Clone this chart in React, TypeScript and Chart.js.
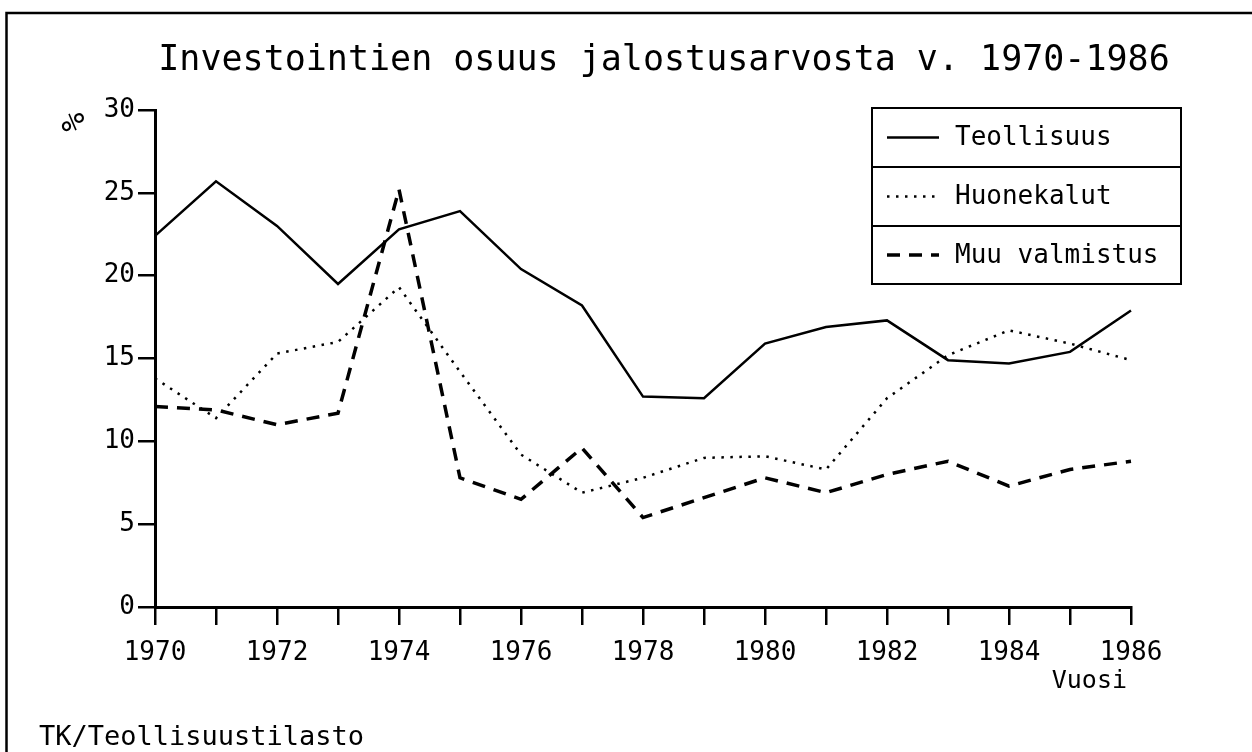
import React, { useEffect, useRef } from 'react';
import { Chart, registerables } from 'chart.js';

Chart.register(...registerables);

const chartTitle = 'Investointien osuus jalostusarvosta v. 1970-1986';
const sourceText = 'TK/Teollisuustilasto';
const xAxisTitle = 'Vuosi';
const yAxisTitle = '%';

const years = [1970, 1971, 1972, 1973, 1974, 1975, 1976, 1977, 1978, 1979, 1980, 1981, 1982, 1983, 1984, 1985, 1986];
const seriesNames = ['Teollisuus', 'Huonekalut', 'Muu valmistus'];
const teollisuus = [22.4, 25.7, 23.0, 19.5, 22.8, 23.9, 20.4, 18.2, 12.7, 12.6, 15.9, 16.9, 17.3, 14.9, 14.7, 15.4, 17.9];
const huonekalut = [13.8, 11.4, 15.3, 16.0, 19.3, 14.2, 9.2, 6.9, 7.8, 9.0, 9.1, 8.3, 12.6, 15.2, 16.7, 15.9, 14.9];
const muuValmistus = [12.1, 11.9, 11.0, 11.7, 25.2, 7.8, 6.5, 9.6, 5.4, 6.6, 7.8, 6.9, 8.0, 8.8, 7.3, 8.3, 8.8];
const yMin = 0;
const yMax = 30;
const yStep = 5;

const FONT = '"DejaVu Sans Mono", "Liberation Mono", monospace';

const decorPlugin = {
  id: 'decor',
  afterDraw(chart: any) {
    const ctx = chart.ctx as CanvasRenderingContext2D;
    ctx.save();
    // frame
    ctx.strokeStyle = '#000';
    ctx.lineWidth = 2.5;
    ctx.strokeRect(6.5, 13, 1270, 780);

    ctx.fillStyle = '#000';
    // title
    ctx.font = `35px ${FONT}`;
    ctx.textAlign = 'center';
    ctx.textBaseline = 'alphabetic';
    ctx.fillText(chartTitle, 664, 70);

    // y-axis unit
    ctx.save();
    ctx.translate(76, 122);
    ctx.rotate(-Math.PI / 2);
    ctx.font = `32px ${FONT}`;
    ctx.textAlign = 'center';
    ctx.textBaseline = 'middle';
    ctx.fillText(yAxisTitle, 0, 0);
    ctx.restore();

    // x-axis title
    ctx.font = `25px ${FONT}`;
    ctx.textAlign = 'right';
    ctx.textBaseline = 'alphabetic';
    ctx.fillText(xAxisTitle, 1127, 688);

    // source
    ctx.font = `27px ${FONT}`;
    ctx.textAlign = 'left';
    ctx.fillText(sourceText, 39, 745);

    // legend box
    const lx0 = 872, lx1 = 1181;
    const rows = [108, 167, 226, 284];
    ctx.lineWidth = 2;
    ctx.strokeRect(lx0, rows[0], lx1 - lx0, rows[3] - rows[0]);
    ctx.beginPath();
    ctx.moveTo(lx0, rows[1]); ctx.lineTo(lx1, rows[1]);
    ctx.moveTo(lx0, rows[2]); ctx.lineTo(lx1, rows[2]);
    ctx.stroke();
    ctx.font = `26px ${FONT}`;
    ctx.textAlign = 'left';
    ctx.textBaseline = 'middle';
    chart.data.datasets.forEach((ds: any, i: number) => {
      const cy = (rows[i] + rows[i + 1]) / 2;
      ctx.save();
      ctx.lineWidth = ds.borderWidth;
      ctx.setLineDash(ds.borderDash || []);
      ctx.lineCap = ds.borderCapStyle || 'butt';
      ctx.beginPath();
      ctx.moveTo(887, cy);
      ctx.lineTo(939, cy);
      ctx.stroke();
      ctx.restore();
      ctx.fillText(ds.label, 955, cy + 1);
    });
    ctx.restore();
  },
};

export default function App() {
  const ref = useRef<HTMLCanvasElement | null>(null);
  useEffect(() => {
    if (!ref.current) return;
    const chart = new Chart(ref.current, {
      type: 'line',
      data: {
        labels: years.map(String),
        datasets: [
          { label: seriesNames[0], data: teollisuus, borderColor: '#000', borderWidth: 2.5, pointRadius: 0, tension: 0, fill: false },
          { label: seriesNames[1], data: huonekalut, borderColor: '#000', borderWidth: 2.5, borderDash: [2.5, 6.5], pointRadius: 0, tension: 0, fill: false },
          { label: seriesNames[2], data: muuValmistus, borderColor: '#000', borderWidth: 3.5, borderDash: [13, 9], pointRadius: 0, tension: 0, fill: false },
        ],
      },
      options: {
        responsive: false,
        animation: false,
        devicePixelRatio: 1,
        layout: { padding: { left: 0, right: 121, top: 110, bottom: 0 } },
        plugins: { legend: { display: false }, title: { display: false }, tooltip: { enabled: false } },
        scales: {
          x: {
            type: 'category',
            offset: false,
            border: { display: true, color: '#000', width: 3 },
            grid: { display: true, drawOnChartArea: false, drawTicks: true, tickLength: 18, color: '#000', tickColor: '#000', lineWidth: 2.5, tickWidth: 2.5 },
            ticks: {
              autoSkip: false,
              maxRotation: 0,
              color: '#000',
              padding: 13,
              font: { family: FONT, size: 26 },
              callback: (_v: any, i: number) => (years[i] % 2 === 0 ? String(years[i]) : ''),
            },
            afterFit: (s: any) => { s.height = 145; },
          },
          y: {
            min: yMin,
            max: yMax,
            border: { display: true, color: '#000', width: 3 },
            grid: { display: true, drawOnChartArea: false, drawTicks: true, tickLength: 17, color: '#000', tickColor: '#000', lineWidth: 2.5, tickWidth: 2.5 },
            ticks: {
              stepSize: yStep,
              color: '#000',
              padding: 3,
              font: { family: FONT, size: 26 },
            },
            afterFit: (s: any) => { s.width = 155; },
          },
        },
      },
      plugins: [decorPlugin],
    } as any);
    return () => chart.destroy();
  }, []);
  return (
    <div style={{ position: 'fixed', left: 0, top: 0, width: 1252, height: 752, background: '#fff' }}>
      <canvas ref={ref} width={1252} height={752} style={{ display: 'block' }} />
    </div>
  );
}
